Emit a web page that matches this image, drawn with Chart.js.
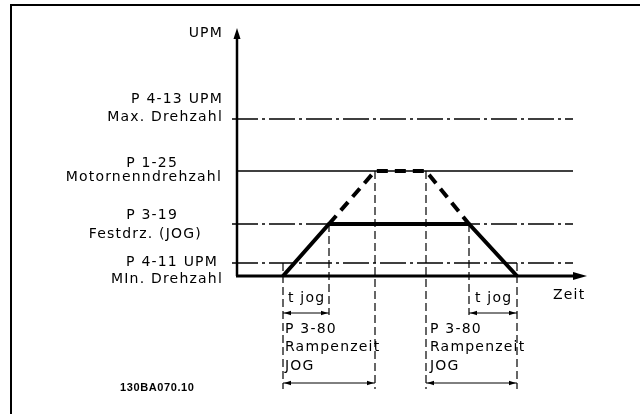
<!DOCTYPE html>
<html>
<head>
<meta charset="utf-8">
<script src="https://cdn.jsdelivr.net/npm/chart.js@4"></script>
<style>
  body { margin: 0; background: #fff; }
  canvas { display: block; }
</style>
</head>
<body>
<canvas id="jog_chart" width="640" height="414"></canvas>
<script>
// Speed levels (UPM axis, schematic units) and their labels
const levelNames = ['max', 'nominal', 'jog', 'min']
const levelValues = [15.7, 10.5, 5.2, 1.3]
const levelLabels = [
  ['P 4-13 UPM', 'Max. Drehzahl'],
  ['P 1-25', 'Motornenndrehzahl'],
  ['P 3-19', 'Festdrz. (JOG)'],
  ['P 4-11 UPM', 'MIn. Drehzahl']
]
// Time points on the Zeit axis (schematic units)
const tStart = 4.6      // ramp up starts
const tJogUp = 9.2      // jog speed reached
const tNomUp = 13.8     // nominal speed would be reached
const tNomDown = 18.9   // nominal ramp down would start
const tJogDown = 23.2   // jog ramp down starts
const tStop = 28.0      // stopped
const tLineEnd = 33.6   // reference lines end
const tAxisEnd = 35.0   // tip of the time arrow
const upmAxisEnd = 24.8 // tip of the UPM arrow
// Where the helper lines and arrows sit below the time axis
const tJogArrowY = -3.7
const rampArrowY = -10.7
const shortGuideEnd = -3.9
const longGuideEnd = -11.3

const vMax = levelValues[0], vNom = levelValues[1], vJog = levelValues[2], vMin = levelValues[3]

// the actual jog profile (thick line) and the full ramp to nominal speed (thick dashed)
const jogProfile = [
  {x: tStart, y: 0}, {x: tJogUp, y: vJog}, {x: tJogDown, y: vJog}, {x: tStop, y: 0}
]
const rampProfile = [
  {x: tJogUp, y: vJog}, {x: tNomUp, y: vNom}, {x: tNomDown, y: vNom}, {x: tJogDown, y: vJog}
]

function seg(x1, y1, x2, y2) { return [{x: x1, y: y1}, {x: x2, y: y2}] }

function lineSet(data, width, dash) {
  return {
    data: data, showLine: true, fill: false, pointRadius: 0,
    borderColor: '#000', borderWidth: width, borderDash: dash || [],
    borderCapStyle: 'butt', tension: 0
  }
}

const dashDot = [26, 4, 3, 4]
const guideDash = [8, 4]

let datasets = [
  // reference levels
  lineSet(seg(-0.5, vMax, tLineEnd, vMax), 1.5, dashDot),
  lineSet(seg(0, vNom, tLineEnd, vNom), 1.5),
  lineSet(seg(-0.5, vJog, tLineEnd, vJog), 1.5, dashDot),
  lineSet(seg(-0.5, vMin, tLineEnd, vMin), 1.5, dashDot),
  // vertical guides
  lineSet(seg(tStart, vMin, tStart, longGuideEnd), 1.2, guideDash),
  lineSet(seg(tJogUp, vJog, tJogUp, shortGuideEnd), 1.2, guideDash),
  lineSet(seg(tNomUp, vNom, tNomUp, longGuideEnd), 1.2, guideDash),
  lineSet(seg(tNomDown, vNom, tNomDown, longGuideEnd), 1.2, guideDash),
  lineSet(seg(tJogDown, vJog, tJogDown, shortGuideEnd), 1.2, guideDash),
  lineSet(seg(tStop, vMin, tStop, longGuideEnd), 1.2, guideDash),
  // time spans
  lineSet(seg(tStart, tJogArrowY, tJogUp, tJogArrowY), 1),
  lineSet(seg(tJogDown, tJogArrowY, tStop, tJogArrowY), 1),
  lineSet(seg(tStart, rampArrowY, tNomUp, rampArrowY), 1),
  lineSet(seg(tNomDown, rampArrowY, tStop, rampArrowY), 1),
  // axes
  lineSet(seg(0, 0, 0, upmAxisEnd - 0.8), 2.5),
  lineSet(seg(-0.1, 0, tAxisEnd - 1.0, 0), 3),
  // profiles
  lineSet(rampProfile, 4, [11, 7]),
  lineSet(jogProfile, 4)
]

// Draw arrowheads, frame and all the texts on top of the chart
const decorPlugin = {
  id: 'decor',
  afterDatasetsDraw(chart) {
    const ctx = chart.ctx
    const xs = chart.scales.x, ys = chart.scales.y
    const px = v => xs.getPixelForValue(v)
    const py = v => ys.getPixelForValue(v)
    ctx.save()
    ctx.fillStyle = '#000'
    ctx.strokeStyle = '#000'

    // frame (top and left edges)
    ctx.fillRect(11, 4, 629, 2)
    ctx.fillRect(10, 4, 2, 410)

    function head(x, y, dir, len, half) {
      ctx.beginPath()
      if (dir === 'up') { ctx.moveTo(x, y); ctx.lineTo(x - half, y + len); ctx.lineTo(x + half, y + len) }
      if (dir === 'right') { ctx.moveTo(x, y); ctx.lineTo(x - len, y - half); ctx.lineTo(x - len, y + half) }
      if (dir === 'left') { ctx.moveTo(x, y); ctx.lineTo(x + len, y - half); ctx.lineTo(x + len, y + half) }
      ctx.closePath()
      ctx.fill()
    }
    // axis arrows
    head(px(0), py(upmAxisEnd), 'up', 11, 3.5)
    head(px(tAxisEnd), py(0), 'right', 14, 4)
    // span arrows
    const spans = [[tStart, tJogUp, tJogArrowY], [tJogDown, tStop, tJogArrowY],
                   [tStart, tNomUp, rampArrowY], [tNomDown, tStop, rampArrowY]]
    spans.forEach(s => {
      head(px(s[0]) + 1, py(s[2]), 'left', 7, 2.2)
      head(px(s[1]) - 1, py(s[2]), 'right', 7, 2.2)
    })

    function text(str, x, y, align) {
      ctx.textAlign = align
      ctx.textBaseline = 'alphabetic'
      ctx.fillText(str, x, y)
    }
    ctx.font = '14px "DejaVu Sans"'
    ctx.letterSpacing = '1.2px'

    // level labels: [right offset from axis, baseline offset from level] per line
    const labelPlace = [
      [[-14, -16], [-14, 2]],
      [[-59, -4], [-15, 10]],
      [[-59, -5], [-35, 14]],
      [[-19, 3], [-14, 20]]
    ]
    const ax = px(0)
    levelLabels.forEach((lines, i) => {
      lines.forEach((str, j) => {
        text(str, ax + labelPlace[i][j][0], py(levelValues[i]) + labelPlace[i][j][1], 'right')
      })
    })

    text('UPM', ax - 14, py(upmAxisEnd) + 9, 'right')
    text('Zeit', px(tAxisEnd) - 34, py(0) + 23, 'left')

    text('t jog', px(tStart) + 5, py(0) + 26, 'left')
    text('t jog', px(tJogDown) + 6, py(0) + 26, 'left')
    const rampText = ['P 3-80', 'Rampenzeit', 'JOG']
    const rampBase = [57, 75, 94]
    rampText.forEach((str, j) => {
      text(str, px(tStart) + 2, py(0) + rampBase[j], 'left')
      text(str, px(tNomDown) + 4, py(0) + rampBase[j], 'left')
    })

    ctx.font = 'bold 11px "Liberation Sans"'
    ctx.letterSpacing = '0.6px'
    text('130BA070.10', 120, 391, 'left')
    ctx.restore()
  }
}

let ctx = document.getElementById('jog_chart')
new Chart(ctx, {
  type: 'scatter',
  data: { datasets: datasets },
  options: {
    responsive: false,
    animation: false,
    layout: { padding: 0 },
    plugins: { legend: { display: false }, tooltip: { enabled: false } },
    scales: {
      x: { type: 'linear', min: -23.7, max: 40.3, display: false },
      y: { type: 'linear', min: -13.8, max: 27.6, display: false }
    }
  },
  plugins: [decorPlugin]
})
</script>
</body>
</html>
